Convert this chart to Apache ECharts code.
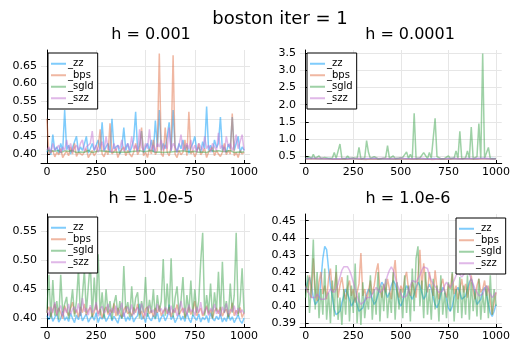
<!DOCTYPE html>
<html>
<head>
<meta charset="utf-8">
<script src="https://cdn.jsdelivr.net/npm/echarts@6/dist/echarts.min.js"></script>
<style>
html,body{margin:0;padding:0;background:#fff;}
#main{width:513px;height:342px;}
</style>
</head>
<body>
<div id="main"></div>
<script>
// tick labels
var xTicks = [0, 250, 500, 750, 1000];
var yTicks1 = [0.40, 0.45, 0.50, 0.55, 0.60, 0.65];
var yTicks2 = [0.5, 1.0, 1.5, 2.0, 2.5, 3.0, 3.5];
var yTicks3 = [0.40, 0.45, 0.50, 0.55];
var yTicks4 = [0.39, 0.40, 0.41, 0.42, 0.43, 0.44, 0.45];
var names = ['_zz', '_bps', '_sgld', '_szz'];
var titles = ['h = 0.001', 'h = 0.0001', 'h = 1.0e-5', 'h = 1.0e-6'];

// h = 0.001
var zz1 = [0.405,0.415,0.398,0.455,0.41,0.42,0.402,0.43,0.408,0.525,0.412,0.425,0.40,0.418,0.435,0.45,0.405,0.42,0.41,0.428,0.45,0.403,0.415,0.43,0.41,0.405,0.44,0.412,0.49,0.408,0.42,0.43,0.405,0.50,0.415,0.41,0.425,0.40,0.418,0.475,0.41,0.43,0.405,0.42,0.44,0.52,0.41,0.425,0.465,0.402,0.418,0.43,0.41,0.44,0.405,0.495,0.42,0.525,0.41,0.43,0.415,0.45,0.49,0.408,0.525,0.42,0.405,0.43,0.415,0.44,0.41,0.425,0.402,0.418,0.43,0.45,0.41,0.42,0.405,0.435,0.415,0.535,0.41,0.425,0.405,0.44,0.418,0.43,0.505,0.41,0.42,0.403,0.428,0.415,0.505,0.41,0.43,0.45,0.405,0.42,0.41];
var bps1 = [0.50,0.40,0.395,0.41,0.392,0.405,0.398,0.415,0.39,0.40,0.408,0.395,0.42,0.40,0.43,0.393,0.405,0.41,0.397,0.402,0.415,0.39,0.40,0.41,0.395,0.405,0.42,0.47,0.40,0.392,0.41,0.398,0.487,0.40,0.395,0.415,0.39,0.405,0.40,0.42,0.395,0.41,0.40,0.392,0.405,0.43,0.398,0.41,0.475,0.395,0.405,0.39,0.415,0.40,0.44,0.398,0.41,0.685,0.40,0.393,0.475,0.405,0.395,0.42,0.68,0.40,0.39,0.41,0.398,0.405,0.44,0.395,0.52,0.40,0.41,0.392,0.405,0.43,0.398,0.40,0.415,0.39,0.405,0.40,0.42,0.395,0.41,0.40,0.393,0.405,0.43,0.398,0.41,0.40,0.515,0.395,0.405,0.39,0.41,0.40,0.405];
var sgld1 = [0.41,0.407,0.409,0.405,0.408,0.406,0.41,0.404,0.407,0.409,0.406,0.408,0.405,0.41,0.407,0.404,0.408,0.406,0.409,0.405,0.407,0.41,0.406,0.404,0.408,0.407,0.405,0.409,0.406,0.408,0.404,0.407,0.41,0.405,0.408,0.406,0.409,0.404,0.407,0.406,0.408,0.405,0.41,0.407,0.404,0.408,0.406,0.409,0.405,0.407,0.406,0.408,0.404,0.41,0.407,0.405,0.408,0.406,0.409,0.404,0.407,0.405,0.408,0.406,0.41,0.407,0.404,0.408,0.406,0.409,0.405,0.407,0.41,0.406,0.404,0.408,0.407,0.405,0.409,0.406,0.408,0.404,0.407,0.41,0.405,0.408,0.406,0.409,0.404,0.407,0.406,0.408,0.405,0.41,0.407,0.404,0.408,0.406,0.409,0.405,0.407];
var szz1 = [0.41,0.42,0.405,0.43,0.41,0.415,0.425,0.403,0.42,0.41,0.44,0.412,0.43,0.405,0.418,0.425,0.41,0.43,0.44,0.408,0.42,0.415,0.43,0.465,0.41,0.425,0.405,0.42,0.435,0.41,0.45,0.415,0.42,0.405,0.43,0.41,0.425,0.415,0.44,0.408,0.42,0.43,0.41,0.45,0.415,0.425,0.405,0.47,0.42,0.41,0.43,0.415,0.47,0.41,0.425,0.405,0.43,0.42,0.44,0.41,0.425,0.415,0.475,0.41,0.43,0.42,0.405,0.425,0.455,0.41,0.42,0.43,0.415,0.44,0.41,0.425,0.405,0.43,0.42,0.41,0.45,0.415,0.425,0.405,0.43,0.42,0.41,0.46,0.415,0.425,0.405,0.45,0.42,0.43,0.41,0.425,0.455,0.415,0.42,0.455,0.41];

// h = 0.0001
var zz2 = [0.42,0.415,0.425,0.418,0.43,0.412,0.42,0.427,0.415,0.422,0.418,0.41,0.425,0.42,0.414,0.428,0.417,0.421,0.412,0.426,0.419,0.415,0.423,0.41,0.42,0.429,0.416,0.422,0.413,0.425,0.418,0.421,0.411,0.427,0.42,0.415,0.424,0.418,0.412,0.426,0.419,0.422,0.414,0.428,0.417,0.42,0.413,0.425,0.418,0.422,0.41,0.427,0.419,0.415,0.424,0.42,0.412,0.426,0.418,0.421,0.414,0.428,0.416,0.422,0.411,0.425,0.419,0.415,0.423,0.42,0.413,0.427,0.418,0.421,0.412,0.426,0.419,0.415,0.424,0.418,0.411,0.428,0.42,0.416,0.422,0.413,0.425,0.419,0.414,0.427,0.42,0.417,0.423,0.412,0.426,0.418,0.421,0.415,0.424,0.419,0.42];
var bps2 = [0.41,0.405,0.415,0.402,0.412,0.408,0.418,0.404,0.41,0.406,0.414,0.401,0.409,0.416,0.405,0.411,0.403,0.413,0.407,0.41,0.404,0.417,0.408,0.402,0.412,0.406,0.41,0.415,0.403,0.409,0.405,0.413,0.401,0.411,0.407,0.416,0.404,0.41,0.408,0.402,0.414,0.406,0.411,0.403,0.409,0.417,0.405,0.412,0.407,0.401,0.41,0.415,0.404,0.408,0.413,0.406,0.402,0.411,0.409,0.416,0.403,0.41,0.405,0.412,0.407,0.414,0.401,0.409,0.404,0.411,0.406,0.415,0.403,0.41,0.408,0.412,0.405,0.402,0.413,0.407,0.41,0.404,0.416,0.406,0.411,0.403,0.409,0.414,0.405,0.41,0.407,0.402,0.412,0.408,0.415,0.404,0.41,0.406,0.413,0.403,0.41];
var sgld2 = [0.43,0.42,0.48,0.42,0.55,0.43,0.42,0.5,0.43,0.42,0.46,0.42,0.43,0.42,0.44,0.6,0.43,0.42,0.85,0.43,0.44,0.42,0.5,0.43,0.42,0.45,0.42,0.43,0.75,0.42,0.43,0.44,0.95,0.6,0.43,0.42,0.48,0.43,0.42,0.44,0.43,0.42,0.45,0.8,0.43,0.42,0.5,0.43,0.42,0.44,0.43,0.46,0.42,0.62,0.43,0.55,0.42,1.75,0.43,0.42,0.44,0.43,0.6,0.55,0.42,0.6,0.43,0.42,1.6,0.48,0.43,0.42,0.44,0.43,0.42,0.5,0.43,0.42,0.44,0.65,0.43,1.22,0.42,0.43,0.44,0.65,0.43,1.35,0.42,0.43,0.48,1.45,0.43,3.5,0.44,0.42,0.75,0.43,0.47,0.42,0.43];
var szz2 = [0.425,0.415,0.43,0.42,0.435,0.418,0.428,0.412,0.44,0.422,0.416,0.432,0.42,0.426,0.414,0.438,0.421,0.43,0.417,0.425,0.433,0.419,0.412,0.428,0.436,0.42,0.424,0.415,0.431,0.422,0.418,0.44,0.426,0.413,0.429,0.421,0.434,0.417,0.425,0.42,0.437,0.414,0.428,0.423,0.418,0.432,0.426,0.412,0.43,0.421,0.438,0.416,0.427,0.424,0.419,0.435,0.42,0.413,0.43,0.425,0.44,0.418,0.428,0.422,0.415,0.433,0.421,0.427,0.414,0.436,0.42,0.425,0.418,0.431,0.423,0.412,0.429,0.42,0.434,0.417,0.426,0.422,0.415,0.438,0.424,0.419,0.43,0.413,0.427,0.421,0.435,0.418,0.425,0.42,0.432,0.416,0.428,0.423,0.414,0.43,0.42];

// h = 1.0e-5
var zz3 = [0.405,0.398,0.41,0.395,0.402,0.408,0.394,0.4,0.412,0.397,0.403,0.395,0.409,0.4,0.393,0.406,0.398,0.411,0.396,0.402,0.408,0.394,0.4,0.405,0.397,0.41,0.393,0.403,0.399,0.407,0.395,0.401,0.409,0.396,0.404,0.398,0.392,0.406,0.4,0.41,0.395,0.403,0.397,0.408,0.394,0.401,0.405,0.425,0.398,0.404,0.393,0.409,0.4,0.396,0.406,0.399,0.411,0.394,0.402,0.407,0.396,0.403,0.424,0.398,0.405,0.393,0.4,0.409,0.397,0.404,0.395,0.41,0.399,0.393,0.406,0.401,0.397,0.408,0.394,0.402,0.398,0.405,0.393,0.41,0.4,0.396,0.404,0.398,0.407,0.394,0.401,0.395,0.409,0.397,0.403,0.393,0.4,0.406,0.396,0.392,0.401];
var bps3 = [0.41,0.42,0.403,0.415,0.425,0.405,0.418,0.41,0.4,0.422,0.412,0.405,0.417,0.428,0.408,0.415,0.402,0.42,0.41,0.425,0.406,0.414,0.419,0.403,0.411,0.424,0.408,0.416,0.401,0.413,0.42,0.407,0.415,0.41,0.426,0.404,0.418,0.409,0.402,0.415,0.421,0.408,0.412,0.404,0.419,0.41,0.425,0.406,0.413,0.4,0.416,0.42,0.408,0.414,0.403,0.418,0.41,0.422,0.405,0.412,0.417,0.408,0.42,0.403,0.415,0.41,0.424,0.406,0.413,0.418,0.402,0.41,0.42,0.407,0.415,0.43,0.405,0.412,0.418,0.404,0.41,0.422,0.407,0.415,0.401,0.413,0.418,0.408,0.42,0.404,0.412,0.416,0.403,0.41,0.427,0.405,0.414,0.408,0.419,0.402,0.41];
var sgld3 = [0.41,0.475,0.4,0.466,0.405,0.43,0.398,0.475,0.41,0.425,0.437,0.4,0.42,0.45,0.403,0.43,0.485,0.405,0.44,0.482,0.41,0.455,0.497,0.402,0.47,0.415,0.51,0.405,0.445,0.4,0.45,0.41,0.43,0.398,0.425,0.44,0.405,0.43,0.4,0.49,0.41,0.428,0.402,0.455,0.408,0.435,0.445,0.4,0.43,0.41,0.471,0.403,0.432,0.41,0.45,0.4,0.44,0.412,0.43,0.502,0.405,0.46,0.41,0.503,0.402,0.435,0.455,0.408,0.43,0.471,0.4,0.44,0.41,0.465,0.405,0.45,0.41,0.43,0.497,0.547,0.405,0.44,0.41,0.46,0.4,0.445,0.412,0.48,0.405,0.497,0.41,0.43,0.4,0.46,0.41,0.44,0.547,0.405,0.43,0.486,0.41];
var szz3 = [0.415,0.405,0.42,0.41,0.428,0.408,0.415,0.422,0.404,0.418,0.41,0.425,0.407,0.416,0.42,0.41,0.426,0.405,0.435,0.412,0.418,0.406,0.423,0.41,0.415,0.428,0.404,0.417,0.421,0.409,0.414,0.425,0.405,0.418,0.41,0.422,0.407,0.415,0.427,0.403,0.416,0.42,0.41,0.424,0.406,0.415,0.419,0.408,0.426,0.412,0.404,0.418,0.422,0.41,0.415,0.405,0.425,0.412,0.417,0.408,0.42,0.414,0.406,0.422,0.41,0.418,0.404,0.415,0.43,0.41,0.418,0.406,0.424,0.412,0.416,0.405,0.42,0.41,0.428,0.407,0.414,0.42,0.405,0.418,0.412,0.425,0.408,0.415,0.404,0.42,0.41,0.426,0.407,0.416,0.412,0.422,0.405,0.418,0.41,0.415,0.408];

// h = 1.0e-6
var zz4 = [0.410,0.414,0.417,0.412,0.405,0.401,0.400,0.404,0.415,0.428,0.435,0.433,0.422,0.412,0.405,0.398,0.395,0.394,0.397,0.402,0.406,0.41,0.409,0.404,0.400,0.402,0.405,0.401,0.397,0.396,0.399,0.403,0.407,0.41,0.408,0.404,0.401,0.403,0.407,0.411,0.414,0.412,0.408,0.405,0.408,0.412,0.415,0.413,0.408,0.402,0.400,0.403,0.408,0.412,0.41,0.406,0.404,0.407,0.411,0.414,0.412,0.408,0.404,0.406,0.41,0.413,0.41,0.405,0.401,0.399,0.402,0.407,0.411,0.409,0.404,0.399,0.397,0.4,0.405,0.409,0.411,0.408,0.404,0.403,0.406,0.41,0.414,0.416,0.412,0.406,0.401,0.4,0.404,0.409,0.411,0.407,0.401,0.396,0.394,0.397,0.401];
var bps4 = [0.412,0.408,0.418,0.405,0.428,0.41,0.403,0.414,0.42,0.407,0.412,0.404,0.416,0.422,0.408,0.41,0.42,0.405,0.412,0.417,0.409,0.404,0.411,0.415,0.406,0.41,0.402,0.408,0.413,0.431,0.406,0.41,0.404,0.409,0.415,0.407,0.412,0.42,0.425,0.41,0.405,0.413,0.408,0.416,0.41,0.404,0.418,0.427,0.41,0.405,0.412,0.408,0.416,0.42,0.41,0.406,0.414,0.41,0.405,0.418,0.433,0.41,0.425,0.414,0.408,0.42,0.412,0.406,0.421,0.41,0.404,0.412,0.416,0.409,0.405,0.413,0.41,0.419,0.407,0.412,0.404,0.41,0.416,0.408,0.413,0.405,0.411,0.418,0.409,0.404,0.412,0.416,0.408,0.41,0.415,0.406,0.412,0.403,0.395,0.402,0.408];
var sgld4 = [0.405,0.418,0.396,0.412,0.439,0.398,0.42,0.393,0.41,0.395,0.422,0.392,0.408,0.39,0.415,0.394,0.424,0.392,0.405,0.389,0.41,0.395,0.418,0.391,0.412,0.396,0.425,0.39,0.408,0.389,0.414,0.393,0.405,0.398,0.418,0.392,0.41,0.395,0.42,0.391,0.412,0.397,0.416,0.393,0.408,0.396,0.42,0.392,0.414,0.398,0.41,0.393,0.418,0.396,0.412,0.391,0.422,0.397,0.428,0.435,0.4,0.415,0.393,0.42,0.395,0.41,0.392,0.416,0.398,0.412,0.391,0.418,0.395,0.408,0.393,0.414,0.397,0.42,0.391,0.41,0.396,0.417,0.393,0.412,0.395,0.418,0.392,0.414,0.397,0.41,0.394,0.416,0.392,0.408,0.396,0.412,0.393,0.418,0.395,0.41,0.4];
var szz4 = [0.411,0.41,0.407,0.405,0.404,0.405,0.407,0.406,0.404,0.403,0.404,0.406,0.408,0.41,0.409,0.408,0.41,0.413,0.417,0.421,0.423,0.424,0.423,0.421,0.418,0.414,0.41,0.406,0.403,0.401,0.401,0.403,0.405,0.406,0.405,0.406,0.409,0.411,0.41,0.408,0.408,0.41,0.414,0.418,0.421,0.423,0.421,0.417,0.413,0.41,0.407,0.405,0.404,0.406,0.409,0.412,0.415,0.416,0.414,0.415,0.418,0.421,0.423,0.424,0.422,0.418,0.415,0.413,0.412,0.41,0.408,0.407,0.409,0.412,0.414,0.413,0.411,0.412,0.415,0.418,0.42,0.419,0.417,0.418,0.42,0.421,0.419,0.416,0.413,0.41,0.408,0.406,0.405,0.407,0.41,0.412,0.41,0.407,0.405,0.406,0.408];

var colors = ['rgba(0,154,249,0.5)', 'rgba(226,111,70,0.5)', 'rgba(61,164,77,0.5)', 'rgba(194,113,210,0.5)'];
var panels = [
    {data: [zz1, bps1, sgld1, szz1], yMin: 0.3745, yMax: 0.695, yTicks: yTicks1, digits: 2},
    {data: [zz2, bps2, sgld2, szz2], yMin: 0.295, yMax: 3.6, yTicks: yTicks2, digits: 1},
    {data: [zz3, bps3, sgld3, szz3], yMin: 0.3855, yMax: 0.579, yTicks: yTicks3, digits: 2},
    {data: [zz4, bps4, sgld4, szz4], yMin: 0.3878, yMax: 0.4539, yTicks: yTicks4, digits: 2}
];
var boxes = [
    {left: 41, top: 50, title: [146, 22], legend: [48, 53]},
    {left: 300, top: 50, title: [405, 22], legend: [307, 53]},
    {left: 41, top: 214, title: [146, 186], legend: [48, 217]},
    {left: 300, top: 214, title: [403, 186], legend: [456, 218]}
];

var font = 'DejaVu Sans';
var grids = [], xAxes = [], yAxes = [], series = [], legends = [], titleList = [];

titleList.push({
    text: 'boston iter = 1', left: 275, top: 5, textAlign: 'center',
    textStyle: {fontFamily: font, fontSize: 18, fontWeight: 'normal', color: '#000'}
});

panels.forEach(function (p, k) {
    var b = boxes[k];
    grids.push({left: b.left, top: b.top, width: 209, height: 113});
    titleList.push({
        text: titles[k], left: b.title[0], top: b.title[1], textAlign: 'center',
        textStyle: {fontFamily: font, fontSize: 16, fontWeight: 'normal', color: '#000'}
    });
    xAxes.push({
        type: 'value', gridIndex: k, min: -30, max: 1030,
        axisLine: {lineStyle: {color: '#000', width: 1}},
        axisTick: {inside: true, length: 3, customValues: xTicks, lineStyle: {color: '#000'}},
        axisLabel: {
            customValues: xTicks, fontFamily: font, fontSize: 11, color: '#000', margin: 4,
            formatter: function (v) { return String(v); }
        },
        splitLine: {show: true, lineStyle: {color: '#e6e6e6', width: 1}}
    });
    yAxes.push({
        type: 'value', gridIndex: k, min: p.yMin, max: p.yMax,
        axisLine: {show: true, lineStyle: {color: '#000', width: 1}},
        axisTick: {show: true, inside: true, length: 3, customValues: p.yTicks, lineStyle: {color: '#000'}},
        axisLabel: {
            customValues: p.yTicks, fontFamily: font, fontSize: 11, color: '#000', margin: 4,
            formatter: function (v) { return v.toFixed(p.digits); }
        },
        splitLine: {show: true, lineStyle: {color: '#e6e6e6', width: 1}}
    });
    p.data.forEach(function (arr, j) {
        var n = arr.length;
        series.push({
            type: 'line', name: names[j], xAxisIndex: k, yAxisIndex: k,
            showSymbol: false, animation: false,
            lineStyle: {color: colors[j], width: 1.5},
            itemStyle: {color: colors[j]},
            data: arr.map(function (v, i) { return [i * 1000 / (n - 1), v]; })
        });
    });
    legends.push({
        data: names, orient: 'vertical', left: b.legend[0], top: b.legend[1],
        icon: 'rect', itemWidth: 15, itemHeight: 2, itemGap: 0,
        padding: [5, 4, 5, 3], borderColor: '#000', borderWidth: 1, backgroundColor: '#fff',
        selectedMode: false,
        textStyle: {fontFamily: font, fontSize: 10, color: '#000', lineHeight: 11.5, padding: [0, 0, 0, -3]}
    });
});

var myChart = echarts.init(document.getElementById('main'));
myChart.setOption({
    animation: false,
    title: titleList,
    grid: grids,
    xAxis: xAxes,
    yAxis: yAxes,
    legend: legends,
    series: series
});
</script>
</body>
</html>
